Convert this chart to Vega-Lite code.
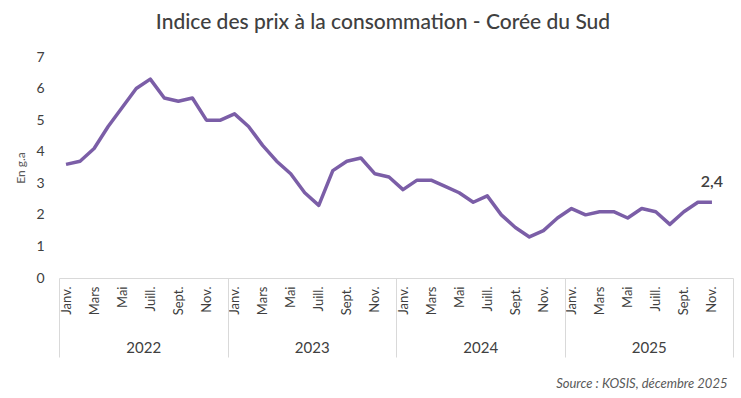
{
  "$schema": "https://vega.github.io/schema/vega-lite/v6.json",
  "autosize": {"type": "none"},
  "width": 674,
  "height": 221,
  "padding": {"left": 59, "top": 57, "right": 8, "bottom": 120},
  "background": "white",
  "config": {
    "view": {"stroke": null},
    "font": "Lato",
    "axis": {"labelFont": "Lato", "titleFont": "Lato"},
    "locale": {"number": {"decimal": ",", "thousands": " ", "grouping": [3], "currency": ["", " €"]}}
  },
  "title": {
    "text": "Indice des prix à la consommation - Corée du Sud",
    "font": "Lato",
    "fontSize": 21,
    "fontWeight": 500,
    "color": "#404040",
    "anchor": "middle",
    "dx": -13,
    "offset": 17
  },
  "data": {
    "values": [
      {"mois": "2022-01", "annee": "2022", "v": 3.6},
      {"mois": "2022-02", "annee": "2022", "v": 3.7},
      {"mois": "2022-03", "annee": "2022", "v": 4.1},
      {"mois": "2022-04", "annee": "2022", "v": 4.8},
      {"mois": "2022-05", "annee": "2022", "v": 5.4},
      {"mois": "2022-06", "annee": "2022", "v": 6.0},
      {"mois": "2022-07", "annee": "2022", "v": 6.3},
      {"mois": "2022-08", "annee": "2022", "v": 5.7},
      {"mois": "2022-09", "annee": "2022", "v": 5.6},
      {"mois": "2022-10", "annee": "2022", "v": 5.7},
      {"mois": "2022-11", "annee": "2022", "v": 5.0},
      {"mois": "2022-12", "annee": "2022", "v": 5.0},
      {"mois": "2023-01", "annee": "2023", "v": 5.2},
      {"mois": "2023-02", "annee": "2023", "v": 4.8},
      {"mois": "2023-03", "annee": "2023", "v": 4.2},
      {"mois": "2023-04", "annee": "2023", "v": 3.7},
      {"mois": "2023-05", "annee": "2023", "v": 3.3},
      {"mois": "2023-06", "annee": "2023", "v": 2.7},
      {"mois": "2023-07", "annee": "2023", "v": 2.3},
      {"mois": "2023-08", "annee": "2023", "v": 3.4},
      {"mois": "2023-09", "annee": "2023", "v": 3.7},
      {"mois": "2023-10", "annee": "2023", "v": 3.8},
      {"mois": "2023-11", "annee": "2023", "v": 3.3},
      {"mois": "2023-12", "annee": "2023", "v": 3.2},
      {"mois": "2024-01", "annee": "2024", "v": 2.8},
      {"mois": "2024-02", "annee": "2024", "v": 3.1},
      {"mois": "2024-03", "annee": "2024", "v": 3.1},
      {"mois": "2024-04", "annee": "2024", "v": 2.9},
      {"mois": "2024-05", "annee": "2024", "v": 2.7},
      {"mois": "2024-06", "annee": "2024", "v": 2.4},
      {"mois": "2024-07", "annee": "2024", "v": 2.6},
      {"mois": "2024-08", "annee": "2024", "v": 2.0},
      {"mois": "2024-09", "annee": "2024", "v": 1.6},
      {"mois": "2024-10", "annee": "2024", "v": 1.3},
      {"mois": "2024-11", "annee": "2024", "v": 1.5},
      {"mois": "2024-12", "annee": "2024", "v": 1.9},
      {"mois": "2025-01", "annee": "2025", "v": 2.2},
      {"mois": "2025-02", "annee": "2025", "v": 2.0},
      {"mois": "2025-03", "annee": "2025", "v": 2.1},
      {"mois": "2025-04", "annee": "2025", "v": 2.1},
      {"mois": "2025-05", "annee": "2025", "v": 1.9},
      {"mois": "2025-06", "annee": "2025", "v": 2.2},
      {"mois": "2025-07", "annee": "2025", "v": 2.1},
      {"mois": "2025-08", "annee": "2025", "v": 1.7},
      {"mois": "2025-09", "annee": "2025", "v": 2.1},
      {"mois": "2025-10", "annee": "2025", "v": 2.4},
      {"mois": "2025-11", "annee": "2025", "v": 2.4},
      {"mois": "2025-12", "annee": "2025", "v": null}
    ]
  },
  "resolve": {"scale": {"x": "independent"}, "axis": {"x": "independent"}},
  "layer": [
    {
      "encoding": {
        "x": {
          "field": "mois",
          "type": "ordinal",
          "sort": null,
          "scale": {"type": "point", "padding": 0.5},
          "axis": {
            "orient": "bottom",
            "title": null,
            "ticks": false,
            "domainColor": "#D9D9D9",
            "domainWidth": 1,
            "labelAngle": -90,
            "labelAlign": "right",
            "labelBaseline": "middle",
            "labelPadding": 8,
            "labelFontSize": 13,
            "labelColor": "#404040",
            "labelOverlap": false,
            "labelExpr": "['Janv.','','Mars','','Mai','','Juill.','','Sept.','','Nov.',''][toNumber(slice(datum.value,5))-1]"
          }
        },
        "y": {
          "field": "v",
          "type": "quantitative",
          "scale": {"domain": [0, 7], "nice": false},
          "axis": {
            "title": "En g.a",
            "titleFontSize": 12,
            "titleFontWeight": "normal",
            "titleColor": "#595959",
            "titlePadding": 8,
            "values": [0, 1, 2, 3, 4, 5, 6, 7],
            "labelOverlap": false,
            "grid": false,
            "domain": false,
            "ticks": false,
            "labelPadding": 15,
            "labelFontSize": 14,
            "labelColor": "#404040"
          }
        }
      },
      "layer": [
        {
          "mark": {"type": "line", "color": "#7B5EA7", "strokeWidth": 3.5, "strokeJoin": "round", "strokeCap": "butt"}
        },
        {
          "transform": [{"filter": "datum.mois === '2025-11'"}],
          "mark": {"type": "text", "dy": -20, "fontSize": 16, "fontWeight": 600, "color": "#404040"},
          "encoding": {"text": {"field": "v", "type": "quantitative", "format": ".1f"}}
        }
      ]
    },
    {
      "mark": {"type": "point", "opacity": 0},
      "encoding": {
        "x": {
          "field": "annee",
          "type": "ordinal",
          "scale": {"type": "band", "paddingInner": 0, "paddingOuter": 0},
          "axis": {
            "orient": "bottom",
            "title": "Source : KOSIS, décembre 2025",
            "titleFontSize": 13,
            "titleFontStyle": "italic",
            "titleFontWeight": "normal",
            "titleColor": "#595959",
            "titleAlign": "right",
            "titleBaseline": "middle",
            "titleX": 668,
            "titleY": 105,
            "domain": false,
            "ticks": true,
            "tickBand": "extent",
            "tickSize": 79,
            "tickColor": "#D9D9D9",
            "tickWidth": 1,
            "labelAngle": 0,
            "labelAlign": "center",
            "labelBaseline": "middle",
            "labelPadding": -10,
            "labelFontSize": 15,
            "labelColor": "#404040"
          }
        }
      }
    }
  ]
}
